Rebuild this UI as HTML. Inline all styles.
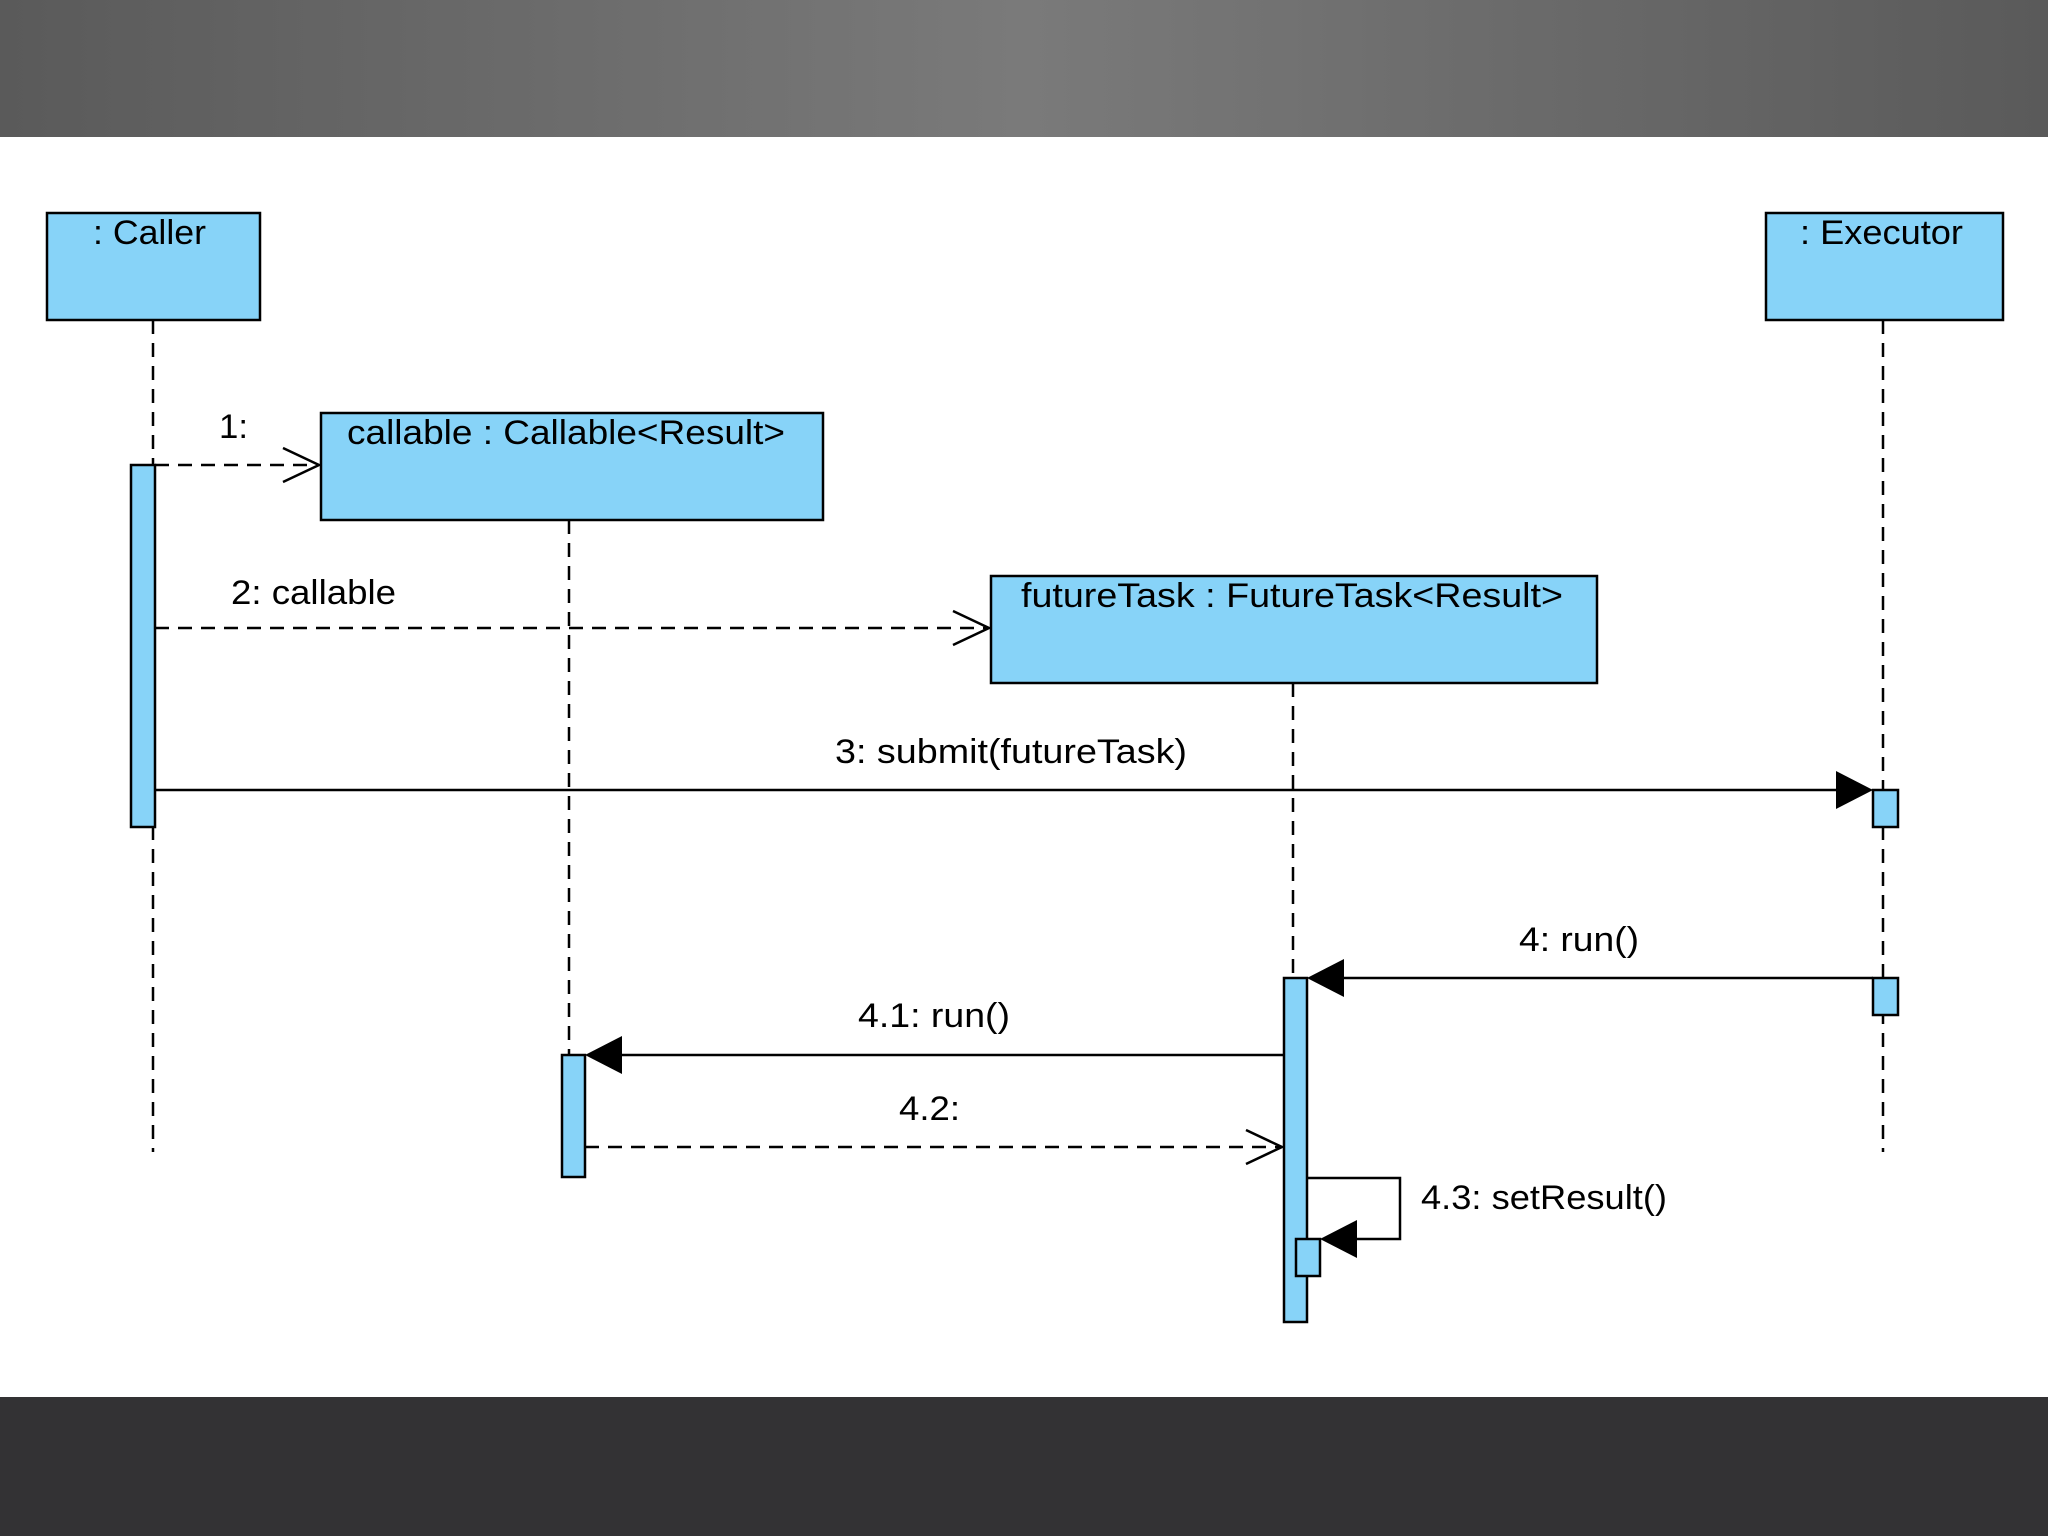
<!DOCTYPE html>
<html><head><meta charset="utf-8"><style>
html,body{margin:0;padding:0;width:2048px;height:1536px;overflow:hidden;background:#fff}
</style></head><body>
<svg width="2048" height="1536" xmlns="http://www.w3.org/2000/svg" font-family="Liberation Sans, sans-serif" font-size="34" fill="#000">
<defs>
<linearGradient id="top" x1="0" x2="1"><stop offset="0" stop-color="#5a5a5a"/><stop offset="0.5" stop-color="#7a7a7a"/><stop offset="1" stop-color="#5a5a5a"/></linearGradient>
</defs>
<rect x="0" y="0" width="2048" height="137" fill="url(#top)"/>
<rect x="0" y="1397" width="2048" height="139" fill="#333234"/>
<g stroke="#000" stroke-width="2.5" fill="none" stroke-dasharray="14,9">
<line x1="153" y1="320" x2="153" y2="1152"/>
<line x1="1883" y1="320" x2="1883" y2="1152"/>
<line x1="569" y1="520" x2="569" y2="1055"/>
<line x1="1293" y1="683" x2="1293" y2="978"/>
</g>
<g fill="#87d3f8" stroke="#000" stroke-width="2.5">
<rect x="47" y="213" width="213" height="107"/>
<rect x="1766" y="213" width="237" height="107"/>
<rect x="321" y="413" width="502" height="107"/>
<rect x="991" y="576" width="606" height="107"/>
<rect x="131" y="465" width="24" height="362"/>
<rect x="1873" y="790" width="25" height="37"/>
<rect x="1873" y="978" width="25" height="37"/>
<rect x="1284" y="978" width="23" height="344"/>
<rect x="562" y="1055" width="23" height="122"/>
<rect x="1296" y="1239" width="24" height="37"/>
</g>
<g lengthAdjust="spacingAndGlyphs">
<text x="93" y="244" textLength="113" lengthAdjust="spacingAndGlyphs">: Caller</text>
<text x="1800" y="244" textLength="163" lengthAdjust="spacingAndGlyphs">: Executor</text>
<text x="347" y="444" textLength="438" lengthAdjust="spacingAndGlyphs">callable : Callable&lt;Result&gt;</text>
<text x="1021" y="607" textLength="542" lengthAdjust="spacingAndGlyphs">futureTask : FutureTask&lt;Result&gt;</text>
<text x="835" y="763" textLength="352" lengthAdjust="spacingAndGlyphs">3: submit(futureTask)</text>
<text x="1519" y="951" textLength="120" lengthAdjust="spacingAndGlyphs">4: run()</text>
<text x="858" y="1027" textLength="152" lengthAdjust="spacingAndGlyphs">4.1: run()</text>
<text x="899" y="1120" textLength="61" lengthAdjust="spacingAndGlyphs">4.2:</text>
<text x="219" y="438" textLength="29" lengthAdjust="spacingAndGlyphs">1:</text>
<text x="231" y="604" textLength="165" lengthAdjust="spacingAndGlyphs">2: callable</text>
<text x="1421" y="1209" textLength="246" lengthAdjust="spacingAndGlyphs">4.3: setResult()</text>
</g>
<g stroke="#000" stroke-width="2.5" fill="none">
<line x1="155" y1="465" x2="319" y2="465" stroke-dasharray="14,9"/>
<polyline points="283,448 319,465 283,482"/>
<line x1="155" y1="628" x2="989" y2="628" stroke-dasharray="14,9"/>
<polyline points="953,611 989,628 953,645"/>
<line x1="155" y1="790" x2="1840" y2="790"/>
<line x1="1873" y1="978" x2="1340" y2="978"/>
<line x1="1284" y1="1055" x2="620" y2="1055"/>
<line x1="585" y1="1147" x2="1282" y2="1147" stroke-dasharray="14,9"/>
<polyline points="1246,1130 1282,1147 1246,1164"/>
<polyline points="1307,1178 1400,1178 1400,1239 1355,1239"/>
</g>
<g fill="#000">
<polygon points="1873,790 1836,771 1836,809"/>
<polygon points="1307,978 1344,959 1344,997"/>
<polygon points="585,1055 622,1036 622,1074"/>
<polygon points="1320,1239 1357,1220 1357,1258"/>
</g>
</svg>
</body></html>
